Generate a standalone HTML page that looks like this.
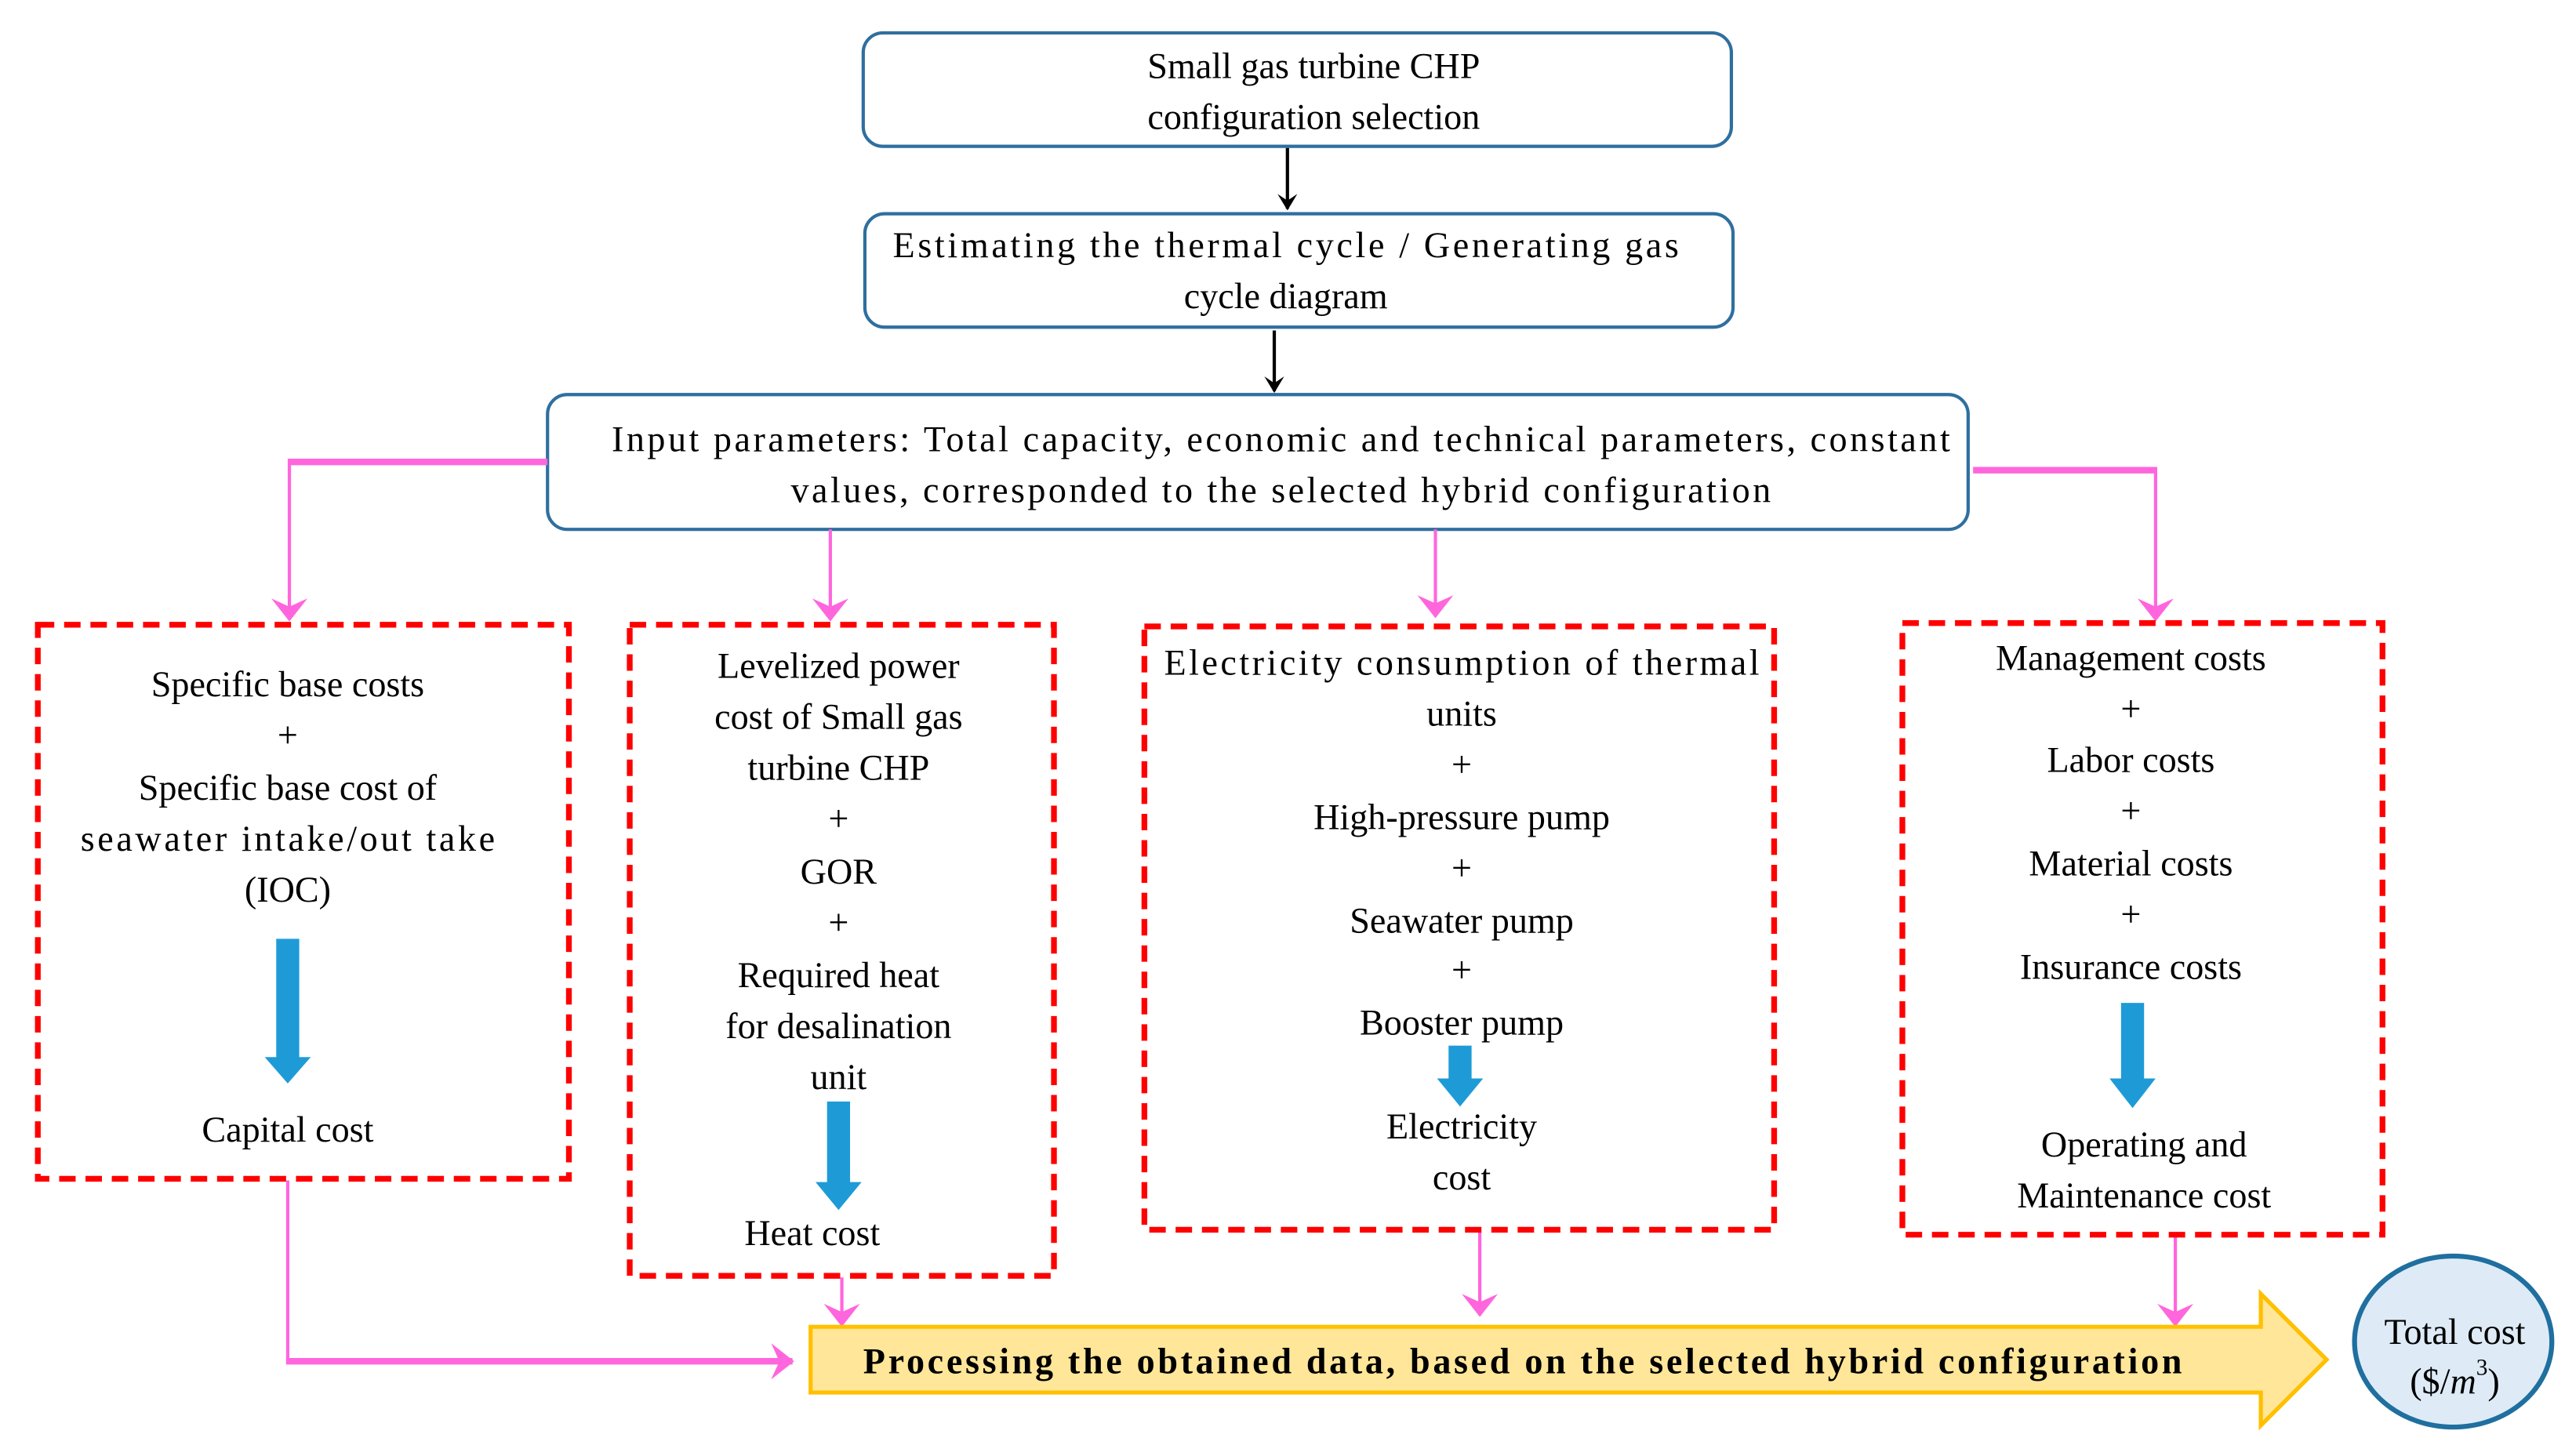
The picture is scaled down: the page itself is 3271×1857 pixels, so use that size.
<!DOCTYPE html>
<html><head><meta charset="utf-8"><style>html,body{margin:0;padding:0;background:#fff}svg{display:block}svg text{font-family:"Liberation Serif","DejaVu Serif",serif}</style></head>
<body>
<svg width="3271" height="1857" viewBox="0 0 1560 885.6" preserveAspectRatio="none" xmlns="http://www.w3.org/2000/svg" font-size="22" fill="#000">
<defs>
<marker id="bk" markerWidth="10" markerHeight="14" refX="9" refY="7" orient="auto" markerUnits="userSpaceOnUse"><path d="M0,1 L10,7 L0,13 L4,7 Z" fill="#000"/></marker>
<marker id="pk" markerWidth="14" markerHeight="22" refX="13" refY="11" orient="auto" markerUnits="userSpaceOnUse"><path d="M0,0 L14,11 L0,22 L5,11 Z" fill="#ff66dd"/></marker>
</defs>
<g fill="none" stroke="#2f6f9f" stroke-width="2">
<rect x="525" y="20" width="528" height="69" rx="12"/>
<rect x="526" y="130" width="528" height="69" rx="12"/>
<rect x="333" y="240" width="864" height="82" rx="12"/>
</g>
<g stroke="#000" stroke-width="2">
<line x1="783" y1="90" x2="783" y2="127" marker-end="url(#bk)"/>
<line x1="775" y1="201" x2="775" y2="238" marker-end="url(#bk)"/>
</g>
<g fill="none" stroke="#ff66dd">
<polyline points="333,281 176,281" stroke-width="4"/>
<line x1="176" y1="279" x2="176" y2="377" stroke-width="2" marker-end="url(#pk)"/>
<polyline points="1200,286 1311,286" stroke-width="4"/>
<line x1="1311" y1="284" x2="1311" y2="377" stroke-width="2" marker-end="url(#pk)"/>
<line x1="505" y1="322" x2="505" y2="377" stroke-width="2" marker-end="url(#pk)"/>
<line x1="873" y1="322" x2="873" y2="375" stroke-width="2" marker-end="url(#pk)"/>
<line x1="175" y1="718" x2="175" y2="828" stroke-width="2"/>
<line x1="174" y1="828" x2="482" y2="828" stroke-width="4" marker-end="url(#pk)"/>
<line x1="512" y1="777" x2="512" y2="806" stroke-width="2" marker-end="url(#pk)"/>
<line x1="900" y1="749" x2="900" y2="800" stroke-width="2" marker-end="url(#pk)"/>
<line x1="1323" y1="752" x2="1323" y2="806" stroke-width="2" marker-end="url(#pk)"/>
</g>
<g fill="none" stroke="#ff0000" stroke-width="3.5" stroke-dasharray="10 6">
<rect x="23" y="380" width="323" height="337"/>
<rect x="383" y="380" width="258" height="396"/>
<rect x="696" y="381" width="383" height="367"/>
<rect x="1157" y="379" width="292" height="372"/>
</g>
<g fill="#1e9bd7">
<path d="M168,571 H182 V643 H189 L175,659 L161,643 H168 Z"/>
<path d="M503,670 H517 V719 H524 L510,736 L496,719 H503 Z"/>
<path d="M881,636 H895 V656 H902 L888,673 L874,656 H881 Z"/>
<path d="M1290,610 H1304 V656 H1311 L1297,674 L1283,656 H1290 Z"/>
</g>
<path d="M493,807 H1375 V787 L1415,827 L1375,867 V847 H493 Z" fill="#ffe699" stroke="#ffc000" stroke-width="2.5"/>
<ellipse cx="1492" cy="816" rx="60" ry="52" fill="#deebf7" stroke="#1f6f9f" stroke-width="3"/>
<g text-anchor="middle" dominant-baseline="central">
<text x="799" y="40">Small gas turbine CHP</text>
<text x="799" y="71">configuration selection</text>
<text x="782" y="149" textLength="478" lengthAdjust="spacing">Estimating the thermal cycle / Generating gas</text>
<text x="782" y="180">cycle diagram</text>
<text x="779" y="267" textLength="814" lengthAdjust="spacing">Input parameters: Total capacity, economic and technical parameters, constant</text>
<text x="779" y="298" textLength="596" lengthAdjust="spacing">values, corresponded to the selected hybrid configuration</text>
<text x="175" y="416">Specific base costs</text>
<text x="175" y="447">+</text>
<text x="175" y="479">Specific base cost of</text>
<text x="175" y="510" textLength="252" lengthAdjust="spacing">seawater intake/out take</text>
<text x="175" y="541">(IOC)</text>
<text x="175" y="687">Capital cost</text>
<text x="510" y="405">Levelized power</text>
<text x="510" y="436">cost of Small gas</text>
<text x="510" y="467">turbine CHP</text>
<text x="510" y="498">+</text>
<text x="510" y="530">GOR</text>
<text x="510" y="561">+</text>
<text x="510" y="593">Required heat</text>
<text x="510" y="624">for desalination</text>
<text x="510" y="655">unit</text>
<text x="494" y="750">Heat cost</text>
<text x="889" y="403" textLength="362" lengthAdjust="spacing">Electricity consumption of thermal</text>
<text x="889" y="434">units</text>
<text x="889" y="465">+</text>
<text x="889" y="497">High-pressure pump</text>
<text x="889" y="528">+</text>
<text x="889" y="560">Seawater pump</text>
<text x="889" y="590">+</text>
<text x="889" y="622">Booster pump</text>
<text x="889" y="685">Electricity</text>
<text x="889" y="716">cost</text>
<text x="1296" y="400">Management costs</text>
<text x="1296" y="431">+</text>
<text x="1296" y="462">Labor costs</text>
<text x="1296" y="493">+</text>
<text x="1296" y="525">Material costs</text>
<text x="1296" y="556">+</text>
<text x="1296" y="588">Insurance costs</text>
<text x="1304" y="696">Operating and</text>
<text x="1304" y="727">Maintenance cost</text>
<text x="926" y="828" font-weight="bold" textLength="802" lengthAdjust="spacing">Processing the obtained data, based on the selected hybrid configuration</text>
<text x="1493" y="810">Total cost</text>
<text x="1493" y="840">($/<tspan font-style="italic">m</tspan><tspan font-size="14" dy="-8">3</tspan><tspan dy="8">)</tspan></text>
</g>
</svg>
</body></html>
